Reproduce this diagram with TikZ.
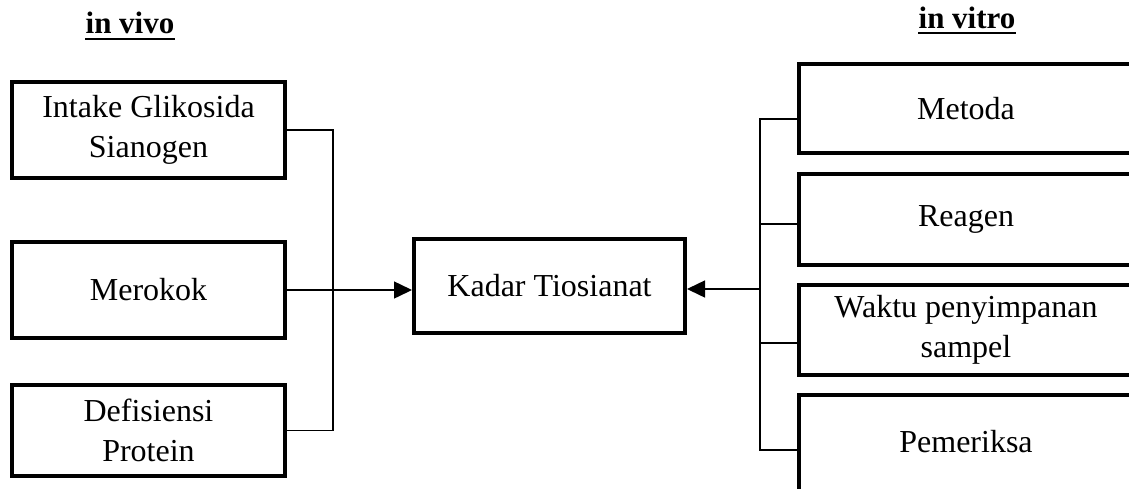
\documentclass[tikz,border=0pt]{standalone}
\usepackage{fontspec}
\setmainfont{Liberation Serif}
\usetikzlibrary{arrows.meta}
\begin{document}
\begin{tikzpicture}[x=1pt,y=-1pt,
  box/.style={draw, line width=4pt, inner sep=0pt, align=center, font=\fontsize{32}{40}\selectfont},
  conn/.style={line width=1.5pt},
  arr/.style={conn, -{Triangle[length=18pt,width=17pt]}},
  ttl/.style={font=\fontsize{31}{36}\selectfont\bfseries, inner sep=0pt, anchor=base},
  uline/.style={line width=2.2pt}]
\useasboundingbox (0,0) rectangle (1129,488);
\clip (0,0) rectangle (1129,488);
\fill[white] (0,0) rectangle (1129,488);

% titles
\node[ttl] (vivo) at (130,33) {in vivo};
\node[ttl] (vitro) at (967,28) {in vitro};
\draw[uline] ([yshift=-6pt]vivo.base west) -- ([yshift=-6pt]vivo.base east);
\draw[uline] ([yshift=-5pt]vitro.base west) -- ([yshift=-5pt]vitro.base east);

% left boxes
\node[box, minimum width=273pt, minimum height=96pt] (intake) at (148.5,130) {Intake Glikosida\\Sianogen};
\node[box, minimum width=273pt, minimum height=96pt] (merok) at (148.5,290) {Merokok};
\node[box, minimum width=273pt, minimum height=91pt] (defis) at (148.5,430.5) {Defisiensi\\Protein};

% centre box
\node[box, minimum width=271pt, minimum height=94pt] (kadar) at (549.5,286) {Kadar Tiosianat};

% right boxes (cut by the page edge)
\node[box, minimum width=334pt, minimum height=89pt] (metoda) at (966,108.5) {Metoda};
\node[box, minimum width=334pt, minimum height=91pt] (reagen) at (966,219.5) {Reagen};
\node[box, minimum width=334pt, minimum height=90pt] (waktu) at (966,330) {Waktu penyimpanan\\sampel};
\node[box, minimum width=334pt, minimum height=100pt] (pemer) at (966,445) {\raisebox{8pt}{Pemeriksa}};

% left connectors
\draw[conn] (intake.east) -- ++(46,0) |- (defis.east);
\draw[arr] (merok.east) -- (merok.east -| kadar.west);

% right connectors
\draw[conn] ([yshift=-10.5pt]metoda.west) -- ++(-37,0) |- ([yshift=-5pt]pemer.west);
\draw[conn] ([yshift=-4.5pt]reagen.west) -- ++(-37,0);
\draw[conn] ([yshift=-13pt]waktu.west) -- ++(-37,0);
\coordinate (rj) at (760,289);
\draw[arr] (rj) -- (rj -| kadar.east);
\end{tikzpicture}
\end{document}
